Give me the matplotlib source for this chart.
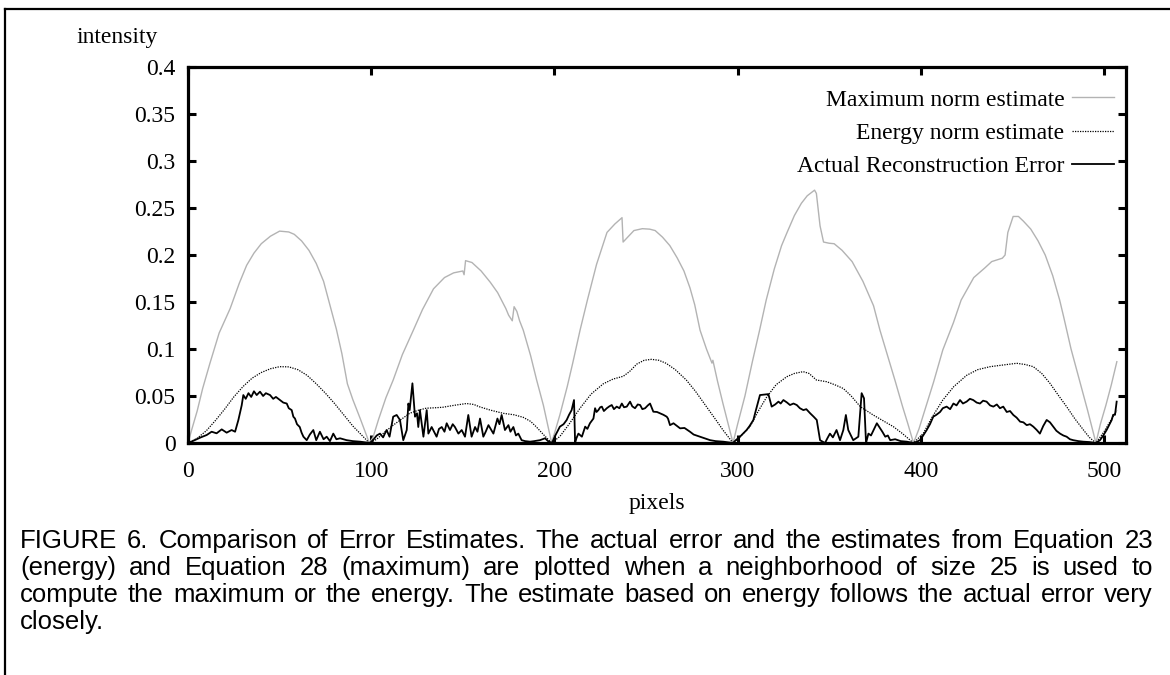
import matplotlib
matplotlib.use("Agg")
import matplotlib.pyplot as plt
from matplotlib.lines import Line2D

# --- data --------------------------------------------------------------
max_x = [0, 2, 5, 8, 12, 17, 23, 28, 32, 36, 40, 45, 50, 55, 58, 62, 66, 70, 74, 78, 81, 84, 87, 90, 94, 99,
         101, 104, 108, 112, 117, 123, 128, 134, 140, 145, 150, 150.7, 151.5, 155, 160, 165, 169, 173.5, 175, 177,
         178, 179.5, 181, 183, 187, 190.3, 194, 198.5,
         200, 203, 207, 210, 214, 218, 223, 228.7, 233, 236.9, 237.5, 240, 243.4, 248, 252, 255, 259, 263, 267,
         270.7, 274, 276.6, 279.5, 283, 285, 286, 286.5, 289, 292, 297.5,
         300, 304, 308, 312, 315.6, 320, 324, 327, 331, 334.8, 338, 342, 343, 345, 346.9, 350, 352.7, 357, 362.5,
         368.4, 374.2, 377.7, 382, 386, 390, 393, 396,
         399, 403, 407, 412, 417.8, 422, 428.9, 434.8, 438.7, 444.5, 446, 447.5, 450.4, 453.3, 456, 460, 464,
         467.9, 472, 475.8, 478, 482, 487, 491, 495.6, 498, 501, 504, 507]
max_y = [0, 0.014, 0.034, 0.058, 0.085, 0.117, 0.143, 0.170, 0.189, 0.202, 0.212, 0.220, 0.2254, 0.2245, 0.222,
         0.215, 0.205, 0.191, 0.172, 0.143, 0.121, 0.095, 0.063, 0.046, 0.026, 0.0,
         0.006, 0.025, 0.048, 0.067, 0.094, 0.120, 0.142, 0.164, 0.176, 0.181, 0.183, 0.179, 0.194, 0.192, 0.183,
         0.171, 0.160, 0.143, 0.136, 0.130, 0.145, 0.140, 0.130, 0.120, 0.093, 0.067, 0.040, 0.0,
         0.010, 0.030, 0.060, 0.085, 0.120, 0.152, 0.190, 0.224, 0.233, 0.2397, 0.2138, 0.219, 0.226, 0.228,
         0.2275, 0.226, 0.219, 0.210, 0.197, 0.183, 0.165, 0.147, 0.120, 0.100, 0.090, 0.085, 0.088, 0.066,
         0.042, 0.0,
         0.020, 0.050, 0.086, 0.120, 0.152, 0.185, 0.210, 0.224, 0.242, 0.255, 0.263, 0.269, 0.2655, 0.231,
         0.2138, 0.2125, 0.212, 0.205, 0.193, 0.172, 0.146, 0.120, 0.092, 0.066, 0.039, 0.020, 0.0,
         0.015, 0.040, 0.065, 0.099, 0.128, 0.152, 0.176, 0.186, 0.193, 0.1966, 0.200, 0.224, 0.241, 0.241,
         0.236, 0.2276, 0.215, 0.200, 0.178, 0.152, 0.134, 0.100, 0.064, 0.035, 0.0, 0.020, 0.040, 0.062, 0.0865]

energy_x = [0, 5, 10, 15, 20, 25, 30, 35, 40, 45, 50, 55, 60, 65, 70, 75, 80, 85, 90, 95, 99,
            103, 107, 112, 117, 121, 126, 130, 135, 139, 145, 152, 156, 159, 165, 172, 178, 183, 187, 190, 194, 198.5,
            203, 208, 214, 220, 226.7, 232, 237.6, 241, 245, 249, 253, 257, 261, 266, 272, 277, 283, 288, 292, 297.5,
            300, 303, 306.8, 311, 315.9, 321, 326.8, 331, 335.8, 339, 343, 348.6, 353, 357.7, 362, 367, 374, 380,
            385, 390, 396,
            401.4, 406, 412, 418, 425, 431, 437.8, 445, 452.3, 457, 461.4, 466, 470.5, 475, 479.6, 484, 488.8, 492,
            495.6, 500, 504, 507]
energy_y = [0, 0.005, 0.013, 0.024, 0.036, 0.049, 0.060, 0.069, 0.075, 0.079, 0.0812, 0.081, 0.078, 0.072, 0.063,
            0.053, 0.042, 0.030, 0.018, 0.008, 0.0,
            0.004, 0.011, 0.019, 0.026, 0.0316, 0.035, 0.037, 0.0375, 0.038, 0.040, 0.042, 0.041, 0.0386, 0.035,
            0.0316, 0.030, 0.0273, 0.023, 0.0174, 0.009, 0.0,
            0.007, 0.020, 0.037, 0.052, 0.063, 0.068, 0.071, 0.076, 0.084, 0.088, 0.089, 0.088, 0.0848, 0.078,
            0.067, 0.055, 0.0386, 0.025, 0.0138, 0.0,
            0.004, 0.010, 0.0174, 0.033, 0.049, 0.062, 0.0705, 0.074, 0.0759, 0.074, 0.067, 0.0652, 0.062, 0.058,
            0.050, 0.0386, 0.0298, 0.023, 0.0174, 0.010, 0.0,
            0.0103, 0.027, 0.0457, 0.060, 0.072, 0.078, 0.0812, 0.083, 0.0848, 0.0835, 0.0812, 0.074, 0.0635,
            0.051, 0.0386, 0.026, 0.0138, 0.006, 0.0, 0.012, 0.025, 0.035]

actual_x = [0, 2.5, 4.7, 7, 10.2, 12.9, 15.6, 18.4, 21.1, 23.8, 25.7, 27.5, 29.3, 30.2, 31.5, 33, 34.5, 36, 37.5,
            39.3, 41, 42.5, 44.8, 46.5, 48, 50.2, 52, 53.9, 55, 56.6, 57.5, 58.4, 59.5, 61, 62, 63, 64.8, 66.5, 68.4,
            70, 72, 74, 75.7, 77.5, 79.3, 81, 83, 86.6, 90, 94, 99.3,
            101, 103, 104.8, 106.5, 108.4, 110, 112, 113.9, 115.7, 117.5, 119.4, 120.3, 121, 122.5, 123.9, 125, 125.7,
            126.6, 128.5, 130.3, 131.2, 133, 134.8, 135.7, 137, 138.5, 140, 141.2, 143, 144.5, 145.7, 147.6, 149.4,
            151.2, 153, 154.8, 156.7, 158, 159.4, 161.2, 162.5, 164, 166.7, 168.9, 170, 171.2, 173, 174.9, 176,
            177.6, 179, 180.3, 182.1, 184, 186.7, 189, 192.1, 194.9, 196.5, 198.7,
            200.5, 203, 205, 206.7, 208, 209.4, 210.7, 211.3, 212, 213.1, 215, 216.8, 218, 219.4, 221.3, 222.2, 223,
            224, 225, 225.9, 227, 228.6, 230, 231.3, 232.5, 234, 235.5, 236.8, 238, 239.5, 241.3, 242.5, 244, 245.5,
            246.8, 248, 249.5, 251, 252.2, 254, 256, 257.7, 259.5, 261.3, 262, 263.1, 265, 268.6, 271, 274, 276,
            279.5, 282, 285, 288, 292.2, 297.5,
            299, 301.3, 303, 304.9, 306.5, 308.6, 310, 312.2, 316.8, 318.6, 320.5, 322.3, 323.5, 325, 327, 328.6,
            330.5, 332.3, 334, 335.9, 337.5, 339.6, 341.5, 343.2, 345, 347.7, 349, 350.4, 352, 354, 355.9, 357.7,
            359.1, 360.4, 363.1, 365.9, 367.7, 369, 370.1, 371.4, 372.8, 374.2, 376, 377.8, 379, 380.6, 382, 383.3,
            386, 389, 392.4, 395.9,
            397.5, 399.5, 401.3, 403.2, 405, 406.8, 408.5, 410.5, 412, 414.1, 416, 417.8, 419.5, 421.4, 423, 425,
            426.8, 428.6, 430.5, 432.3, 434, 435.9, 437.8, 439.6, 441.5, 443.2, 445, 446.9, 448.7, 450.5, 452.3,
            454.2, 456, 457.8, 459.6, 461.4, 463.2, 465, 466.8, 468.7, 470.5, 472.3, 474, 476, 477.8, 479.6, 481.4,
            483.2, 486, 488.7, 492, 495.6, 497.8, 499.6, 501.4, 503, 504.2, 505, 506, 506.9]
actual_y = [0, 0.002, 0.004, 0.006, 0.0085, 0.012, 0.0103, 0.0145, 0.011, 0.0138, 0.012, 0.0245, 0.040, 0.051,
            0.047, 0.053, 0.049, 0.055, 0.051, 0.0546, 0.050, 0.053, 0.051, 0.047, 0.049, 0.0457, 0.043, 0.042,
            0.037, 0.035, 0.028, 0.026, 0.020, 0.017, 0.011, 0.0067, 0.003, 0.009, 0.0138, 0.003, 0.012, 0.004,
            0.0067, 0.002, 0.010, 0.004, 0.005, 0.003, 0.002, 0.0014, 0.0,
            0.003, 0.008, 0.010, 0.006, 0.0138, 0.0067, 0.028, 0.0298, 0.0245, 0.003, 0.0138, 0.042, 0.035, 0.0635,
            0.028, 0.0316, 0.017, 0.035, 0.0067, 0.035, 0.010, 0.017, 0.010, 0.0067, 0.015, 0.017, 0.012, 0.021,
            0.0138, 0.020, 0.017, 0.010, 0.0138, 0.0067, 0.0298, 0.0067, 0.017, 0.012, 0.026, 0.0067, 0.012, 0.019,
            0.010, 0.026, 0.020, 0.0298, 0.0138, 0.019, 0.012, 0.017, 0.008, 0.010, 0.003, 0.002, 0.0014, 0.002,
            0.003, 0.005, 0.002, 0.0,
            0.008, 0.0174, 0.020, 0.0245, 0.030, 0.035, 0.0457, 0.0, 0.005, 0.010, 0.0067, 0.0174, 0.015, 0.021,
            0.026, 0.037, 0.033, 0.035, 0.038, 0.0387, 0.034, 0.037, 0.039, 0.0404, 0.036, 0.0387, 0.037, 0.042,
            0.038, 0.0387, 0.044, 0.039, 0.037, 0.041, 0.0404, 0.036, 0.037, 0.040, 0.042, 0.0333, 0.033, 0.0316,
            0.030, 0.028, 0.026, 0.019, 0.021, 0.0156, 0.016, 0.012, 0.009, 0.0067, 0.005, 0.003, 0.002, 0.0014, 0.0,
            0.003, 0.0067, 0.010, 0.0138, 0.018, 0.0245, 0.035, 0.051, 0.052, 0.0387, 0.041, 0.044, 0.042, 0.0457,
            0.043, 0.0404, 0.042, 0.0404, 0.037, 0.035, 0.036, 0.0316, 0.028, 0.0245, 0.003, 0.0, 0.005, 0.010,
            0.006, 0.0138, 0.003, 0.0138, 0.0298, 0.0138, 0.003, 0.0067, 0.053, 0.0475, 0.0, 0.010, 0.008, 0.0138,
            0.021, 0.0156, 0.012, 0.0067, 0.008, 0.003, 0.004, 0.002, 0.0014, 0.0,
            0.001, 0.003, 0.008, 0.0138, 0.020, 0.028, 0.030, 0.033, 0.037, 0.0387, 0.036, 0.042, 0.040, 0.0457,
            0.042, 0.044, 0.047, 0.0457, 0.043, 0.042, 0.045, 0.044, 0.040, 0.0387, 0.041, 0.037, 0.0387, 0.033,
            0.034, 0.0298, 0.027, 0.0227, 0.022, 0.019, 0.020, 0.0174, 0.014, 0.010, 0.018, 0.0245, 0.022, 0.0174,
            0.013, 0.010, 0.008, 0.0067, 0.004, 0.003, 0.002, 0.0014, 0.001, 0.0, 0.003, 0.008, 0.0138, 0.020,
            0.0245, 0.030, 0.030, 0.044]

xticks = [0, 100, 200, 300, 400, 500]
yticks = [0, 0.05, 0.1, 0.15, 0.2, 0.25, 0.3, 0.35, 0.4]
ytick_labels = ["0", "0.05", "0.1", "0.15", "0.2", "0.25", "0.3", "0.35", "0.4"]

caption_lines = [
    "FIGURE 6. Comparison of Error Estimates. The actual error and the estimates from Equation 23",
    "(energy) and Equation 28 (maximum) are plotted when a neighborhood of size 25 is used to",
    "compute the maximum or the energy. The estimate based on energy follows the actual error very",
    "closely.",
]

# --- figure ------------------------------------------------------------
W, H = 1170, 675
serif = "Liberation Serif"
fig = plt.figure(figsize=(W / 100, H / 100), dpi=100)
ax = fig.add_axes([188 / W, 1 - 443 / H, (1126 - 188) / W, (443 - 67) / H])

ax.plot(max_x, max_y, color="#b3b3b3", lw=1.0, label="Maximum norm estimate")
ax.plot(energy_x, energy_y, color="black", lw=0.9, linestyle=(0, (1, 1)), label="Energy norm estimate")
ax.plot(actual_x, actual_y, color="black", lw=1.3, label="Actual Reconstruction Error")

ax.set_xlim(0, 512)
ax.set_ylim(0, 0.4)
ax.set_xticks(xticks)
ax.set_xticklabels([str(t) for t in xticks], fontfamily=serif, fontsize=17)
ax.set_yticks(yticks)
ax.set_yticklabels(ytick_labels, fontfamily=serif, fontsize=17)
ax.tick_params(direction="in", length=6, width=2.2, top=True, right=True)
ax.tick_params(axis="x", pad=13)
ax.tick_params(axis="y", pad=9)
for s in ax.spines.values():
    s.set_linewidth(2.3)

leg = ax.legend(loc="upper right", bbox_to_anchor=(1114 / W, 1 - 89 / H), bbox_transform=fig.transFigure,
                frameon=False, markerfirst=False, borderpad=0, borderaxespad=0, handlelength=1.8,
                handletextpad=0.3, labelspacing=0.5, prop={"family": serif, "size": 17})

fig.text(117 / W, 1 - 37 / H, "intensity", ha="center", va="center", fontfamily=serif, fontsize=17)
fig.text(657 / W, 1 - 503 / H, "pixels", ha="center", va="center", fontfamily=serif, fontsize=17)

# page frame (left and top edges)
fig.add_artist(Line2D([5 / W, 5 / W], [0, 1 - 9 / H], color="black", lw=1.6))
fig.add_artist(Line2D([5 / W, 1], [1 - 9 / H, 1 - 9 / H], color="black", lw=1.6))

# justified caption
renderer = fig.canvas.get_renderer()
left, right = 20, 1153
for i, line in enumerate(caption_lines):
    words = line.split()
    y = 1 - (541 + 27 * i) / H
    texts = [fig.text(0, y, w, va="center", ha="left", fontfamily="Liberation Sans", fontsize=18.5)
             for w in words]
    widths = [t.get_window_extent(renderer).width for t in texts]
    if i < len(caption_lines) - 1 and len(words) > 1:
        gap = (right - left - sum(widths)) / (len(words) - 1)
    else:
        gap = 7
    x = left
    for t, w in zip(texts, widths):
        t.set_x(x / W)
        x += w + gap

fig.savefig("out.png", dpi=100)
